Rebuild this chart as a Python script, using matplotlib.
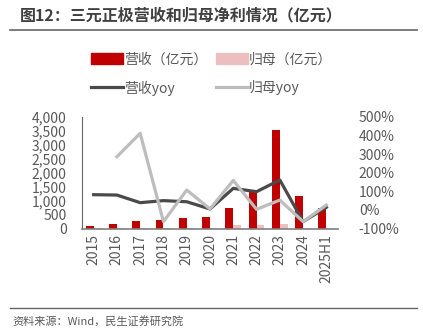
import matplotlib
matplotlib.use("Agg")
import matplotlib.pyplot as plt
import numpy as np
from matplotlib.patches import Patch
from matplotlib.lines import Line2D

plt.rcParams['font.family'] = ['Noto Sans CJK SC', 'DejaVu Sans']

categories = ['2015', '2016', '2017', '2018', '2019', '2020', '2021', '2022', '2023', '2024', '2025H1']
revenue = [100, 150, 260, 305, 375, 420, 725, 1340, 3550, 1165, 720]
net_profit = [8, 10, 30, 10, 20, 30, 125, 110, 150, 20, 15]
revenue_yoy = [82, 80, 39, 50, 44, 5, 116, 98, 161, -63, 14]
profit_yoy = [np.nan, 286, 412, -63, 107, 5, 159, 3, 53, -63, 26]

left_ticks = [0, 500, 1000, 1500, 2000, 2500, 3000, 3500, 4000]
right_ticks = [-100, 0, 100, 200, 300, 400, 500]

RED = '#C00000'
PINK = '#EBBFBF'
DARK = '#4A4A4A'
LIGHT = '#BDBDBD'
TXT = '#595959'

fig = plt.figure(figsize=(4.23, 3.36), dpi=100)
ax = fig.add_axes([82/423, (336-228.5)/336, (338-82)/423, (228.5-117)/336])
ax2 = ax.twinx()

x = np.arange(len(categories))
w = 0.34
ax.bar(x - 0.17, revenue, width=w, color=RED, zorder=2)
ax.bar(x + 0.17, net_profit, width=w, color=PINK, zorder=2)
ax.set_ylim(0, 4000)
ax.set_xlim(-0.5, len(categories) - 0.5)
ax.set_yticks(left_ticks)
ax.set_yticklabels([f'{v:,}' for v in left_ticks])
ax.set_xticks(x)
ax.set_xticklabels(categories, rotation=90)

ax2.plot(x, revenue_yoy, color=DARK, lw=2.3, zorder=3)
ax2.plot(x, profit_yoy, color=LIGHT, lw=2.3, zorder=3)
ax2.set_ylim(-100, 500)
ax2.set_yticks(right_ticks)
ax2.set_yticklabels([f'{v}%' for v in right_ticks])

for a in (ax, ax2):
    for s in ('top', 'right', 'left', 'bottom'):
        a.spines[s].set_visible(False)
    a.tick_params(length=0, labelsize=10, colors=TXT, pad=2)
ax.spines['left'].set_visible(True)
ax.spines['left'].set_color('#666666')
ax.spines['bottom'].set_visible(True)
ax.spines['bottom'].set_color('#808080')
ax.spines['bottom'].set_linewidth(1.2)
ax.tick_params(axis='y', pad=11)
ax.tick_params(axis='x', pad=4)
ax2.tick_params(axis='y', pad=15)
ax.set_zorder(ax2.get_zorder() - 1)
ax.patch.set_visible(False)

handles = [Patch(color=RED), Line2D([], [], color=DARK, lw=2.3),
           Patch(color=PINK), Line2D([], [], color=LIGHT, lw=2.3)]
labels = ['营收（亿元）', '营收yoy', '归母（亿元）', '归母yoy']
fig.legend(handles, labels, ncol=2, loc='center', bbox_to_anchor=(0.5, 1 - 74/336),
           frameon=False, fontsize=10, handlelength=2.3, handleheight=0.9,
           handletextpad=0.1, columnspacing=0.6, labelspacing=1.0,
           labelcolor=TXT)

fig.text(20/423, 1 - 15/336, '图12：三元正极营收和归母净利情况（亿元）', fontsize=11.5,
         fontweight='bold', color='#404040', va='center', ha='left')
fig.add_artist(Line2D([10/423, 417/423], [1 - 30/336, 1 - 30/336], color='#666666', lw=1.2))
fig.add_artist(Line2D([10/423, 417/423], [1 - 308/336, 1 - 308/336], color='#666666', lw=1.0))
fig.text(12/423, 1 - 321/336, '资料来源：Wind，民生证券研究院', fontsize=8, color=TXT,
         va='center', ha='left')

fig.savefig('out.png', dpi=100)
